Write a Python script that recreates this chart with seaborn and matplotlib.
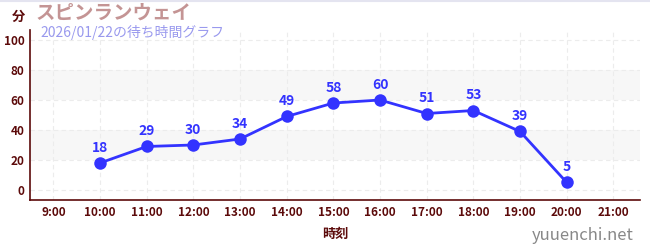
import matplotlib
matplotlib.use("Agg")
import matplotlib.pyplot as plt
import seaborn as sns
import pandas as pd
from matplotlib.ticker import MultipleLocator

hours = [10, 11, 12, 13, 14, 15, 16, 17, 18, 19, 20]
waits = [18, 29, 30, 34, 49, 58, 60, 51, 53, 39, 5]
xtick_hours = list(range(9, 22))
xtick_labels = [f"{h}:00" for h in xtick_hours]
yticks = [0, 20, 40, 60, 80, 100]
title = "スピンランウェイ"
subtitle = "2026/01/22の待ち時間グラフ"

sns.set_style("white")
plt.rcParams['font.family'] = ['Noto Sans CJK JP', 'DejaVu Sans']

df = pd.DataFrame({"hour": hours, "wait": waits})

fig = plt.figure(figsize=(6.5, 2.5), dpi=100)
ax = fig.add_axes([30/650, 1-200/250, 610/650, 170/250])

dark = "#5c0a0a"
blue = "#3333ff"

for lo, hi in [(20, 40), (60, 80)]:
    ax.axhspan(lo, hi, color="#f7f7f7", zorder=0, lw=0)

sns.lineplot(data=df, x="hour", y="wait", ax=ax, color=blue, lw=2,
             marker="o", markersize=9, markeredgewidth=0, zorder=3)

for h, w in zip(hours, waits):
    ax.annotate(str(w), (h, w), xytext=(0, 6), textcoords="offset points",
                ha="center", va="bottom", color=blue, fontsize=10,
                fontweight="bold", zorder=4)

ax.set_xlim(8.5, 21.57)
ax.set_ylim(-6.7, 106.7)
ax.set_xticks(xtick_hours)
ax.set_xticklabels(xtick_labels)
ax.set_yticks(yticks)
ax.yaxis.set_minor_locator(MultipleLocator(10))

ax.grid(True, which="major", color="#ececec", ls=(0, (4, 3)), lw=0.8)
ax.set_axisbelow(True)

for s in ["top", "right"]:
    ax.spines[s].set_visible(False)
for s in ["left", "bottom"]:
    ax.spines[s].set_color(dark)
    ax.spines[s].set_linewidth(1.2)

ax.tick_params(axis="both", which="major", labelsize=8.5, labelcolor=dark,
               length=5, width=1, color="#333333", direction="inout", pad=1.5)
ax.tick_params(axis="y", which="minor", length=3, width=1, color="#dd2222",
               direction="out")
for lab in ax.get_xticklabels() + ax.get_yticklabels():
    lab.set_fontweight("bold")

ax.set_xlabel("時刻", color=dark, fontsize=9.5, fontweight="bold", labelpad=6)
ax.set_ylabel("")

fig.text(12/650, 1-17/250, "分", color=dark, fontsize=9.5, fontweight="bold",
         ha="left", va="center")
fig.text(36/650, 1-13/250, title, color="#c49494", fontsize=14,
         fontweight="bold", ha="left", va="center")
fig.text(40/650, 1-32/250, subtitle, color="#9999ee", fontsize=10,
         ha="left", va="center")
fig.text(634/650, 1-235/250, "yuuenchi.net", color="#888888", fontsize=12,
         ha="right", va="center")
fig.add_artist(plt.Line2D([0, 1], [0.998, 0.998], color="#e4e4f0", lw=1.5))

fig.savefig("out.png", dpi=100)
